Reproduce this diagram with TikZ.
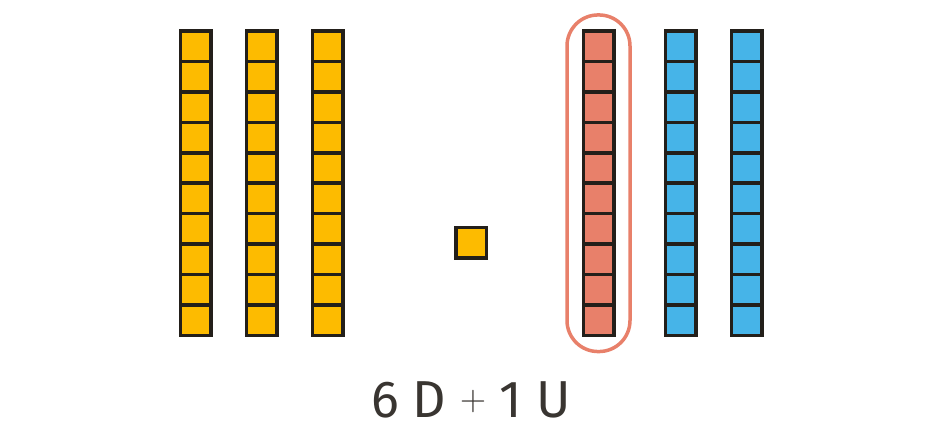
\documentclass[tikz,border=0pt]{standalone}
\usepackage{fontspec}
\newfontfamily\labelfont{Fira Sans}
\usetikzlibrary{positioning, fit}

\definecolor{tenyellow}{HTML}{FDBB00}
\definecolor{tenred}{HTML}{E8806A}
\definecolor{tenblue}{HTML}{46B4E8}
\definecolor{edge}{HTML}{231F1A}

\tikzset{
  cube/.style={draw=edge, line width=3.5pt, minimum size=30.5pt, inner sep=0pt},
  halo/.style={draw=tenred, line width=3.5pt, rounded corners=31pt, inner sep=14.5pt}
}

\begin{document}
\begin{tikzpicture}[x=1pt, y=-1pt]
                        \useasboundingbox (0, 0) rectangle (943, 431);

                        % tens on the left
                        \foreach \c/\x in {1/195.5, 2/261.5, 3/327.5}
                            \foreach \i in {1,...,10}
                                \node[cube, fill=tenyellow] (y\c-\i) at (\x, 16.05+30.4*\i) {};

                        % one unit
                        \node[cube, fill=tenyellow] (u) at (471, 242.5) {};

                        % tens on the right
                        \foreach \i in {1,...,10}
                            \node[cube, fill=tenred] (r-\i) at (598.5, 16.05+30.4*\i) {};
                        \foreach \c/\x in {1/680.5, 2/746.5}
                            \foreach \i in {1,...,10}
                                \node[cube, fill=tenblue] (b\c-\i) at (\x, 16.05+30.4*\i) {};

                        \node[halo, fit=(r-1)(r-10)] (ring) {};

                        \node[anchor=base, font=\labelfont\fontsize{52}{60}\selectfont, text=edge!90] (sum) at (471, 417)
                            {6 D \raisebox{7pt}{\rmfamily\fontsize{36}{40}\selectfont +} 1 U};
                    \end{tikzpicture}
\end{document}
